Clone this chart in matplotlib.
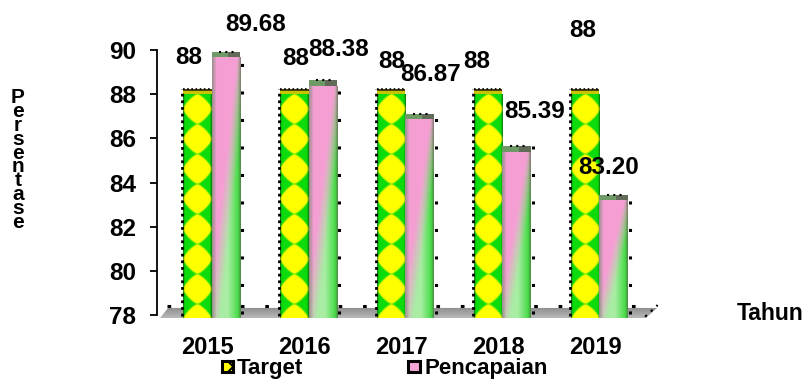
import numpy as np
import matplotlib
matplotlib.use("Agg")
import matplotlib.pyplot as plt
from matplotlib.patches import Rectangle, Polygon
from matplotlib.lines import Line2D

# ---- data ----
years = ["2015", "2016", "2017", "2018", "2019"]
target = [88, 88, 88, 88, 88]
pencapaian = [89.68, 88.38, 86.87, 85.39, 83.20]
target_labels = ["88", "88", "88", "88", "88"]
pencapaian_labels = ["89.68", "88.38", "86.87", "85.39", "83.20"]
yticks = [78, 80, 82, 84, 86, 88, 90]

# label offsets from the top centre of each bar (pixels)
target_offsets = [(-9, 37), (1, 36), (0, 33), (-12, 33), (-3, 64)]
pencapaian_offsets = [(30, 33), (16, 36), (11, 45), (18, 40), (-5, 33)]

plt.rcParams['font.family'] = ['Liberation Sans', 'DejaVu Sans']
plt.rcParams['hatch.color'] = '#10c010'
plt.rcParams['hatch.linewidth'] = 1.5

W, H = 806, 379
fig = plt.figure(figsize=(W / 100, H / 100), dpi=100)

# ---- axes geometry (pixel layout) ----
px_per_x = 97.0
x_origin_px = 211.5
y78_px = 315.0
px_per_y = 22.083
xlim = (-0.6, 4.62)
ylim = (77.7, 90.1)
left_px = x_origin_px + xlim[0] * px_per_x
right_px = x_origin_px + xlim[1] * px_per_x
bottom_px = y78_px + (78 - ylim[0]) * px_per_y
top_px = y78_px - (ylim[1] - 78) * px_per_y
ax = fig.add_axes([left_px / W, 1 - bottom_px / H,
                   (right_px - left_px) / W, (bottom_px - top_px) / H])
ax.patch.set_alpha(0)

base = 77.86          # front edge of the floor
bw = 0.29
cap = 0.25
x = np.arange(len(years))


def diamond_texture(h_px, w_px, period=30.0):
    ny, nx = max(int(round(h_px)), 2), max(int(round(w_px)), 2)
    v = np.arange(ny)[:, None] + 0.5
    u = (np.arange(nx)[None, :] + 0.5) / nx
    phase = (v / period) % 1.0
    d = (np.abs(u - 0.5) / 0.5) ** 1.3 + (np.abs(phase - 0.5) / 0.5) ** 1.3
    yellow = np.array([1.0, 1.0, 0.0])
    green = np.array([0.05, 0.86, 0.05])
    m = np.clip((1.0 - d) * 5 + 0.5, 0, 1)[..., None]
    img = m * yellow + (1 - m) * green
    e = np.clip(1 - np.minimum(u, 1 - u) / 0.07, 0, 1)[..., None]
    img = img * (1 - 0.5 * e)
    return np.broadcast_to(img, (ny, nx, 3)).copy()


def pink_texture(h_px, w_px):
    ny, nx = max(int(round(h_px)), 2), max(int(round(w_px)), 2)
    v = 1 - (np.arange(ny)[:, None] + 0.5) / ny
    u = (np.arange(nx)[None, :] + 0.5) / nx
    pink = np.array([0.96, 0.62, 0.83])
    lgreen = np.array([0.66, 0.93, 0.64])
    bgreen = np.array([0.18, 0.84, 0.18])
    g = np.clip((u - v) * 2.4 + 0.3, 0, 1)[..., None]
    greencol = lgreen + (bgreen - lgreen) * np.clip((u - 0.55) / 0.45, 0, 1)[..., None]
    img = pink * (1 - g) + greencol * g
    le = np.clip(1 - u / 0.16, 0, 1)[..., None]
    img = img * (1 - 0.75 * le) + np.array([0.45, 0.55, 0.42]) * 0.75 * le
    re = np.clip((u - 0.9) / 0.1, 0, 1)[..., None]
    img = img * (1 - 0.6 * re) + np.array([0.42, 0.3, 0.36]) * 0.6 * re
    return np.broadcast_to(img, (ny, nx, 3)).copy()


# ---- floor ----
floor = Polygon([(-0.531, base), (-0.448, 78.32), (4.593, 78.32), (4.479, base)],
                closed=True, facecolor='none', edgecolor='none', zorder=1)
ax.add_patch(floor)
grad = np.linspace(0.55, 0.72, 20)[:, None] * np.ones((1, 4))
fimg = ax.imshow(np.dstack([grad, grad, grad]), extent=(-0.6, 4.62, base, 78.32),
                 aspect='auto', origin='upper', zorder=1, interpolation='bilinear')
fimg.set_clip_path(floor)
ax.add_line(Line2D([-0.46, 4.56], [78.41, 78.41], color='black', lw=2.2,
                   dashes=(1.2, 6.8), zorder=2))
ax.add_line(Line2D([4.47, 4.60], [77.92, 78.45], color='black', lw=1.5,
                   dashes=(1.2, 2.5), zorder=2))

# ---- bars ----
t_bars = ax.bar(x - bw / 2, np.array(target) - base, bottom=base, width=bw,
                facecolor='none', edgecolor='none', zorder=3)
p_bars = ax.bar(x + bw / 2, np.array(pencapaian) - base, bottom=base, width=bw,
                facecolor='none', edgecolor='none', zorder=3)

for patch, val in zip(t_bars.patches, target):
    x0 = patch.get_x()
    x1 = x0 + patch.get_width()
    hpx = (val - base) * px_per_y
    im = ax.imshow(diamond_texture(hpx, bw * px_per_x), extent=(x0, x1, base, val),
                   aspect='auto', origin='upper', zorder=3, interpolation='bilinear')
    im.set_clip_path(patch)
    ax.add_patch(Rectangle((x0, val), bw, cap * 0.55, facecolor='#c8c400',
                           edgecolor='none', zorder=4))
    ax.add_patch(Rectangle((x0, val + cap * 0.55), bw, cap * 0.45, facecolor='#4a4410',
                           edgecolor='none', zorder=4))
    ax.add_line(Line2D([x0 - 0.016, x0 - 0.016], [base + 0.1, val + cap], color='black',
                       lw=2.0, dashes=(1.0, 1.4), zorder=4))
    ax.add_line(Line2D([x0, x1], [val + cap, val + cap], color='black',
                       lw=1.2, dashes=(1.0, 1.5), zorder=4))

for patch, val in zip(p_bars.patches, pencapaian):
    x0 = patch.get_x()
    x1 = x0 + patch.get_width()
    hpx = (val - base) * px_per_y
    im = ax.imshow(pink_texture(hpx, bw * px_per_x), extent=(x0, x1, base, val),
                   aspect='auto', origin='upper', zorder=3, interpolation='bilinear')
    im.set_clip_path(patch)
    ax.add_patch(Rectangle((x0, val), bw, cap, facecolor='#6f9a66',
                           edgecolor='none', zorder=4))
    ax.add_patch(Rectangle((x0 + bw * 0.6, val), bw * 0.4, cap, facecolor='#5a4a50',
                           edgecolor='none', alpha=0.6, zorder=4))
    ax.add_line(Line2D([x1 + 0.022, x1 + 0.022], [base + 0.2, val + cap], color='black',
                       lw=2.2, dashes=(1.0, 8.0), zorder=4))
    ax.add_line(Line2D([x0 + 0.08, x1 - 0.05], [val + cap, val + cap], color='black',
                       lw=1.5, dashes=(1.0, 2.0), zorder=4))

# ---- value labels ----
for xi, val, lab, (dx, dy) in zip(x - bw / 2, target, target_labels, target_offsets):
    ax.annotate(lab, (xi, val), xytext=(dx * 0.72, dy * 0.72), textcoords='offset points',
                ha='center', va='center', fontsize=17.5, fontweight='bold', zorder=6)
for xi, val, lab, (dx, dy) in zip(x + bw / 2, pencapaian, pencapaian_labels, pencapaian_offsets):
    ax.annotate(lab, (xi, val), xytext=(dx * 0.72, dy * 0.72), textcoords='offset points',
                ha='center', va='center', fontsize=17.5, fontweight='bold', zorder=6)

# ---- axes styling ----
ax.set_xlim(*xlim)
ax.set_ylim(*ylim)
for s in ['top', 'right', 'bottom']:
    ax.spines[s].set_visible(False)
ax.spines['left'].set_position(('data', -0.562))
ax.spines['left'].set_bounds(78, 90)
ax.spines['left'].set_linewidth(1.3)
ax.set_yticks(yticks)
ax.set_yticklabels([str(t) for t in yticks], fontsize=17.5, fontweight='bold')
ax.tick_params(axis='y', direction='out', length=5, width=1.3, pad=10)
ax.set_xticks(x - 0.04)
ax.set_xticklabels(years, fontsize=17, fontweight='bold')
ax.tick_params(axis='x', length=0, pad=10.5)

# axis titles
fig.text(737 / W, 1 - 314 / H, "Tahun", fontsize=16.5, fontweight='bold',
         ha='left', va='center')
fig.text(18 / W, 1 - 88 / H, "\n".join("Persentase"), fontsize=15, fontweight='bold',
         ha='center', va='top', multialignment='center', linespacing=0.66)

# ---- legend ----
def fig_rect(x0, y0, w, h, **kw):
    fig.add_artist(Rectangle((x0 / W, 1 - (y0 + h) / H), w / W, h / H,
                             transform=fig.transFigure, **kw))

fig_rect(222, 361, 11, 11, facecolor='#ffff00', edgecolor='black', lw=2.2,
         hatch='x')
fig_rect(408, 361, 12, 11, facecolor='#f4a6d6', edgecolor='black', lw=2.2)
fig.text(237 / W, 1 - 374 / H, "Target", fontsize=16, fontweight='bold',
         ha='left', va='baseline')
fig.text(424 / W, 1 - 374 / H, "Pencapaian", fontsize=16, fontweight='bold',
         ha='left', va='baseline')

fig.savefig("out.png", dpi=100)
